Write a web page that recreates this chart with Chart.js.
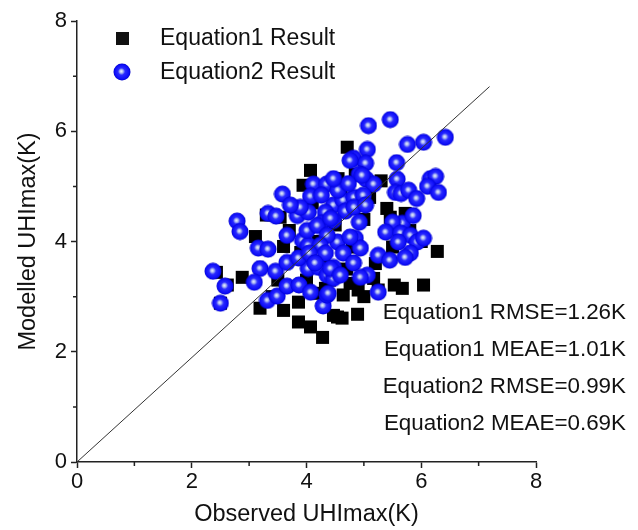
<!DOCTYPE html>
<html lang="en">
<head>
<meta charset="UTF-8">
<title>Observed vs Modelled UHImax</title>
<script src="https://cdn.jsdelivr.net/npm/chart.js"></script>
<style>
    html, body { margin: 0; padding: 0; background: #fff; }
    #wrap { width: 638px; height: 530px; }
</style>
</head>
<body>
<div id="wrap"><canvas id="chartUHI" width="638" height="530"></canvas></div>
<script>
// Equation1 results (black squares)
const eq1X = [4.71, 4.07, 3.94, 3.11, 3.60, 2.88, 3.19, 3.60, 3.86, 3.86, 4.07, 4.28, 4.54, 4.62, 4.89, 4.47,
              4.90, 5.25, 5.53, 5.67, 6.04, 6.28, 5.17, 4.76, 4.64, 4.85, 5.46, 5.72, 3.54, 2.43, 2.62, 2.50,
              4.33, 4.17, 3.30, 4.55, 4.20, 4.50, 4.80, 5.00, 4.30, 4.70, 5.20, 5.50, 5.80, 3.90, 3.70, 4.10,
              4.60, 5.10, 5.40, 4.40, 3.50, 3.40, 5.00, 4.00, 6.00, 5.30];
const eq1Y = [5.71, 5.29, 5.02, 4.09, 3.91, 3.35, 2.79, 2.75, 2.90, 2.54, 2.45, 2.26, 2.63, 2.61, 2.68, 2.66,
              3.12, 3.12, 3.21, 3.15, 3.21, 3.82, 3.33, 3.24, 3.03, 5.22, 4.44, 4.51, 4.44, 3.44, 3.21, 2.88,
              3.15, 3.06, 4.48, 5.14, 4.00, 4.30, 3.90, 4.40, 3.60, 3.50, 3.60, 3.90, 4.20, 3.80, 4.20, 4.70,
              4.90, 4.80, 4.60, 3.30, 3.30, 3.00, 3.00, 3.30, 4.00, 5.10];

// Equation2 results (blue spheres)
const eq2X = [5.08, 5.46, 5.76, 6.04, 6.42, 5.06, 4.82, 5.03, 5.57, 4.92, 5.04, 5.17, 5.58, 6.16, 6.25, 6.11,
              6.30, 5.55, 5.65, 5.78, 5.92, 4.47, 4.64, 4.83, 4.99, 4.68, 4.83, 5.03, 4.47, 4.92, 5.67, 5.86,
              5.50, 3.58, 4.12, 4.35, 4.07, 4.26, 3.33, 3.47, 3.84, 4.03, 4.33, 2.79, 4.26, 2.84, 2.37, 2.58,
              2.50, 3.16, 3.33, 3.19, 3.09, 3.46, 3.66, 3.32, 3.49, 3.66, 3.87, 4.07, 4.29, 3.66, 3.93, 4.03,
              4.03, 4.21, 4.36, 3.86, 4.36, 4.01, 4.54, 4.85, 4.94, 4.64, 4.82, 4.47, 4.47, 5.06, 4.94, 5.25,
              5.45, 5.25, 5.38, 5.64, 5.81, 5.93, 6.04, 5.60, 5.81, 5.72, 4.55, 4.73, 3.89, 3.72, 4.47, 4.76,
              4.97, 4.19, 4.42, 4.36, 4.24, 4.76, 4.33, 4.05, 4.15, 4.42, 4.59, 4.38];
const eq2Y = [6.10, 6.21, 5.76, 5.80, 5.89, 5.67, 5.51, 5.42, 5.43, 5.22, 5.13, 5.04, 5.13, 5.14, 5.18, 5.00,
              4.89, 4.89, 4.87, 4.93, 4.78, 4.66, 4.75, 4.80, 4.84, 4.55, 4.62, 4.66, 4.38, 4.35, 4.33, 4.47,
              4.35, 4.86, 5.04, 5.04, 4.82, 4.84, 4.51, 4.46, 4.47, 4.53, 4.53, 4.37, 4.33, 4.18, 3.46, 3.19,
              2.88, 3.88, 3.86, 3.51, 3.26, 3.46, 3.62, 2.93, 3.01, 3.19, 3.21, 3.08, 2.83, 4.11, 4.02, 3.93,
              3.51, 3.53, 3.39, 3.70, 3.03, 4.20, 3.99, 4.06, 3.88, 3.79, 3.61, 3.53, 3.33, 3.39, 3.35, 3.75,
              3.66, 3.08, 4.17, 4.15, 4.11, 3.99, 4.06, 3.99, 3.79, 3.71, 4.93, 5.05, 4.62, 4.66, 5.14, 5.47,
              5.20, 4.29, 4.42, 4.11, 3.93, 4.08, 3.79, 3.79, 3.61, 3.51, 3.39, 3.06];

// reference line end points
const refLineX = [0, 7.19];
const refLineY = [0, 6.81];

const axisTicks = [0, 2, 4, 6, 8];
const legendLabels = ['Equation1 Result', 'Equation2 Result'];
const statLines = ['Equation1 RMSE=1.26K', 'Equation1 MEAE=1.01K', 'Equation2 RMSE=0.99K', 'Equation2 MEAE=0.69K'];

// shaded sphere marker
function makeSphere(r) {
    const size = Math.ceil(r * 2) + 1;
    const c = document.createElement('canvas');
    c.width = size; c.height = size;
    const g = c.getContext('2d');
    const cx = size / 2, cy = size / 2;
    const grad = g.createRadialGradient(cx - 0.8, cy - 0.8, 0, cx, cy, r);
    grad.addColorStop(0, '#f2f5ff');
    grad.addColorStop(0.2, '#aab8f2');
    grad.addColorStop(0.42, '#2a2aff');
    grad.addColorStop(0.85, '#0c0cf8');
    grad.addColorStop(1, '#0000c8');
    g.fillStyle = grad;
    g.beginPath();
    g.arc(cx, cy, r, 0, Math.PI * 2);
    g.fill();
    return c;
}
const sphere = makeSphere(8.5);

const pts1 = eq1X.map((x, i) => ({ x: x, y: eq1Y[i] }));
const pts2 = eq2X.map((x, i) => ({ x: x, y: eq2Y[i] }));
const linePts = refLineX.map((x, i) => ({ x: x, y: refLineY[i] }));

const fontName = '"Liberation Sans", Arial, sans-serif';

// legend, statistics and the short minor ticks
const annotations = {
    id: 'annotations',
    afterDraw(chart) {
        const ctx = chart.ctx;
        const xs = chart.scales.x, ys = chart.scales.y;
        ctx.save();
        // minor ticks
        ctx.strokeStyle = '#222';
        ctx.lineWidth = 1.5;
        ctx.beginPath();
        [1, 3, 5, 7].forEach(v => {
            const px = xs.getPixelForValue(v), py = ys.getPixelForValue(v);
            ctx.moveTo(px, xs.top); ctx.lineTo(px, xs.top + 4);
            ctx.moveTo(ys.right, py); ctx.lineTo(ys.right - 4, py);
        });
        ctx.stroke();
        // legend
        ctx.fillStyle = '#111';
        ctx.font = '23px ' + fontName;
        ctx.textBaseline = 'middle';
        ctx.fillRect(116, 32, 13, 13);
        ctx.drawImage(sphere, 122 - sphere.width / 2, 72 - sphere.height / 2);
        ctx.textAlign = 'left';
        ctx.fillText(legendLabels[0], 160, 39);
        ctx.fillText(legendLabels[1], 160, 73);
        // stats
        ctx.textAlign = 'right';
        ctx.font = '22.4px ' + fontName;
        statLines.forEach((s, i) => ctx.fillText(s, 626, 313 + i * 37));
        ctx.restore();
    }
};

const tickFont = { family: fontName, size: 22 };
const titleFont = { family: fontName, size: 23.5 };
const majorOnly = c => axisTicks.includes(c.tick.value) ? '#222' : 'rgba(0,0,0,0)';

new Chart(document.getElementById('chartUHI'), {
    type: 'scatter',
    data: {
        datasets: [
            { type: 'line', data: linePts, borderColor: '#333', borderWidth: 1, pointRadius: 0, fill: false, order: 0 },
            { label: legendLabels[1], data: pts2, pointStyle: sphere, pointRadius: 8.5, order: 1 },
            { label: legendLabels[0], data: pts1, pointStyle: 'rect', pointRadius: 9.2,
              backgroundColor: '#000', borderColor: '#000', borderWidth: 0, order: 2 }
        ]
    },
    options: {
        responsive: false,
        animation: false,
        layout: { padding: { left: 0, right: 102, top: 21, bottom: 0 } },
        plugins: { legend: { display: false }, tooltip: { enabled: false } },
        scales: {
            x: {
                type: 'linear', min: 0, max: 8,
                afterFit: s => { s.height = 68; },
                border: { display: true, color: '#222', width: 1.5 },
                grid: { drawOnChartArea: false, drawTicks: true, tickLength: 6, tickColor: majorOnly, tickWidth: 1.5 },
                ticks: { stepSize: 1, color: '#111', font: tickFont, padding: 1,
                         callback: v => axisTicks.includes(v) ? v : '' },
                title: { display: true, text: 'Observed UHImax(K)', color: '#111', font: titleFont, padding: { top: 0, bottom: 1 } }
            },
            y: {
                type: 'linear', min: 0, max: 8,
                afterFit: s => { s.width = 77; },
                border: { display: true, color: '#222', width: 1.5 },
                grid: { drawOnChartArea: false, drawTicks: true, tickLength: 6, tickColor: majorOnly, tickWidth: 1.5 },
                ticks: { stepSize: 1, color: '#111', font: tickFont, padding: 4,
                         callback: v => axisTicks.includes(v) ? v : '' },
                title: { display: true, text: 'Modelled UHImax(K)', color: '#111', font: titleFont, padding: { top: 14, bottom: 4 } }
            }
        }
    },
    plugins: [annotations]
});
</script>
</body>
</html>
